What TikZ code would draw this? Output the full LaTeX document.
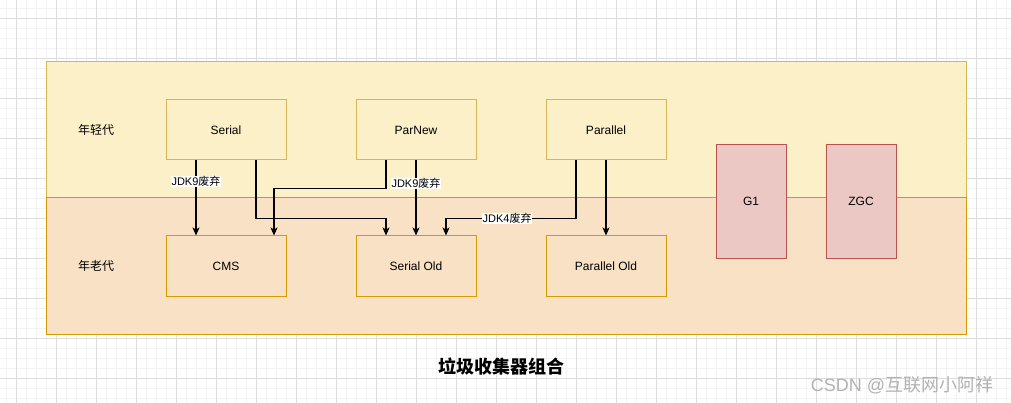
\documentclass[tikz,border=0pt]{standalone}
\usepackage{fontspec}
\setmainfont{Liberation Sans}
\newfontfamily\cjk{Noto Sans CJK SC}
\usetikzlibrary{arrows.meta}
\definecolor{youngfill}{HTML}{FCF0C9}
\definecolor{youngline}{HTML}{D6B656}
\definecolor{oldfill}{HTML}{F8E1C4}
\definecolor{oldline}{HTML}{D79B00}
\definecolor{gcfill}{HTML}{EBC8C4}
\definecolor{gcline}{HTML}{B85450}
\definecolor{gridmajor}{HTML}{DDDDDD}
\definecolor{gridminor}{HTML}{F3F3F3}

\begin{document}
\begin{tikzpicture}[x=1pt,y=-1pt,
    gcbox/.style={draw,line width=1pt,minimum width=120pt,minimum height=60pt,
        inner sep=0pt,font=\fontsize{12}{14}\selectfont},
    youngbox/.style={gcbox,draw=youngline,fill=youngfill},
    oldbox/.style={gcbox,draw=oldline,fill=oldfill},
    fullbox/.style={gcbox,draw=gcline,fill=gcfill,minimum width=70pt,minimum height=113pt},
    genlabel/.style={font=\fontsize{12}{14}\selectfont\cjk},
    arr/.style={line width=1.2pt,-{Stealth[length=8pt,width=7pt,inset=2pt]}},
    lbl/.style={fill=white,inner sep=0.5pt,font=\fontsize{11}{13}\selectfont}]

    \useasboundingbox (0,0) rectangle (1011,403);
    \fill[white] (0,0) rectangle (1011,403);
    \begin{scope}
        \clip (0,0) rectangle (1011,403);
        \draw[gridminor,line width=0.8pt,shift={(6.7,8.3)}] (-10,-10) grid[step=10pt] (1010,400);
        \draw[gridmajor,line width=0.8pt,shift={(16.7,18.3)}] (-40,-40) grid[step=40pt] (1000,400);
    \end{scope}

    % generations
    \draw[line width=1pt,draw=youngline,fill=youngfill] (46,62) rectangle (966,198);
    \draw[line width=1pt,draw=oldline,fill=oldfill] (46,198) rectangle (966,334);
    \node[genlabel] (young) at (96,130) {年轻代};
    \node[genlabel] (old) at (96,266) {年老代};

    \node[youngbox] (serial) at (226,130) {Serial};
    \node[youngbox] (parnew) at (416,130) {ParNew};
    \node[youngbox] (parallel) at (606,130) {Parallel};
    \node[oldbox] (cms) at (226,266) {CMS};
    \node[oldbox] (serold) at (416,266) {Serial Old};
    \node[oldbox] (parold) at (606,266) {Parallel Old};
    \node[fullbox] (g1) at (751,201.5) {G1};
    \node[fullbox] (zgc) at (861,201.5) {ZGC};

    \draw[arr] ([xshift=-30]serial.south) -- node[lbl,pos=0.28] {JDK9{\cjk 废弃}} ([xshift=-30]cms.north);
    \draw[arr] ([xshift=30]serial.south) -- ++(0,58) -| ([xshift=-30]serold.north);
    \draw[arr] ([xshift=-30]parnew.south) -- ++(0,28) -| ([xshift=48]cms.north);
    \draw[arr] (parnew.south) -- node[lbl,pos=0.31] {JDK9{\cjk 废弃}} (serold.north);
    \draw[arr] ([xshift=-30]parallel.south) -- ++(0,58) -- node[lbl,pos=0.53] {JDK4{\cjk 废弃}} ++(-130,0) -- ([xshift=30]serold.north);
    \draw[arr] (parallel.south) -- (parold.north);

    \node[font=\fontsize{18}{20}\selectfont\cjk\bfseries] (title) at (501,367) {垃圾收集器组合};
    \node[text=black!30,font=\fontsize{18}{20}\selectfont] (mark) at (902,385) {CSDN @{\cjk 互联网小阿祥}};
\end{tikzpicture}
\end{document}
